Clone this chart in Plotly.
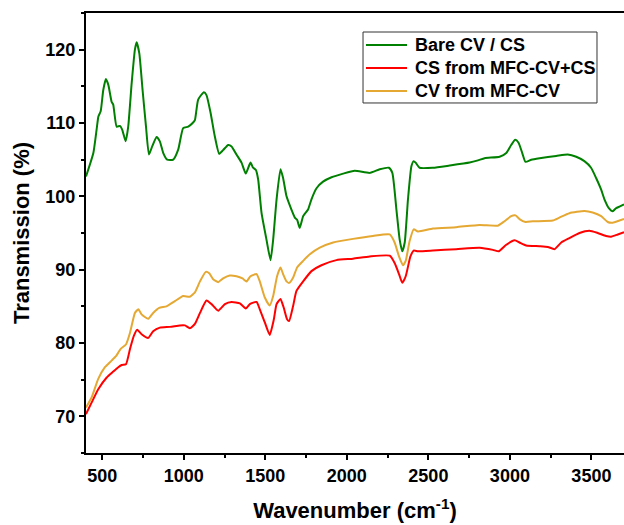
import plotly.graph_objects as go

# ---- data ----
green_x = [400, 445, 465, 476, 490, 506, 522, 537, 557, 567, 588, 608, 622, 643, 659, 680, 700, 711, 727, 747,
           768, 786, 806, 833, 853, 874, 898, 935, 966, 996, 1027, 1054, 1068, 1088, 1123, 1139, 1164, 1190, 1217,
           1241, 1272, 1293, 1323, 1354, 1380, 1409, 1425, 1442, 1456, 1477, 1507, 1532, 1548, 1569, 1593, 1609,
           1630, 1660, 1681, 1695, 1711, 1732, 1762, 1783, 1814, 1854, 1906, 1977, 2048, 2140, 2202, 2258, 2279,
           2304, 2324, 2340, 2355, 2375, 2396, 2410, 2422, 2446, 2528, 2630, 2753, 2804, 2845, 2937, 2978, 3008,
           3033, 3053, 3076, 3096, 3131, 3182, 3284, 3355, 3407, 3457, 3498, 3529, 3560, 3580, 3607, 3631, 3652,
           3672, 3700]
green_y = [102.7, 105.9, 109.1, 110.9, 111.6, 114.5, 116.0, 115.2, 112.9, 112.5, 109.5, 109.6, 109.1, 107.5, 109.5,
           115.4, 120.0, 121.0, 119.5, 114.5, 109.5, 105.7, 106.8, 108.1, 107.5, 105.9, 105.0, 105.0, 106.4, 109.3,
           109.5, 110.0, 110.4, 113.2, 114.2, 113.8, 111.4, 108.2, 105.8, 106.3, 107.0, 106.8, 105.7, 104.6, 103.1,
           104.6, 103.9, 103.6, 102.3, 97.7, 94.1, 91.3, 94.1, 99.6, 103.7, 102.5, 100.0, 98.2, 97.1, 96.8, 95.7,
           97.3, 98.2, 99.6, 101.1, 102.0, 102.6, 103.1, 103.5, 103.2, 103.7, 103.9, 103.2, 98.2, 94.1, 92.5, 93.7,
           99.6, 104.1, 104.8, 104.6, 103.9, 103.9, 104.2, 104.6, 104.9, 105.2, 105.4, 105.9, 107.0, 107.7, 107.3,
           105.9, 104.7, 105.0, 105.2, 105.5, 105.7, 105.4, 104.8, 103.9, 102.5, 100.9, 99.6, 98.4, 97.97, 98.4,
           98.6, 98.9]

red_x = [400, 435, 475, 527, 567, 598, 619, 645, 670, 694, 714, 741, 782, 812, 853, 915, 976, 1007, 1037, 1068,
         1099, 1139, 1170, 1211, 1252, 1293, 1344, 1380, 1405, 1446, 1466, 1497, 1527, 1552, 1569, 1593, 1613, 1634,
         1646, 1670, 1691, 1732, 1783, 1844, 1936, 2038, 2140, 2263, 2293, 2320, 2340, 2361, 2390, 2410, 2436, 2528,
         2671, 2814, 2896, 2932, 2978, 3029, 3059, 3100, 3182, 3233, 3274, 3315, 3365, 3427, 3488, 3539, 3590, 3621,
         3662, 3700]
red_y = [70.3, 71.9, 73.7, 75.3, 76.1, 76.7, 77.0, 77.1, 79.2, 81.0, 81.8, 81.2, 80.7, 81.6, 82.1, 82.2, 82.4, 82.4,
         82.0, 82.6, 84.1, 85.8, 85.3, 84.4, 85.3, 85.6, 85.4, 84.7, 85.3, 85.6, 84.6, 82.8, 81.1, 83.2, 85.3, 86.0,
         84.8, 83.2, 83.0, 85.0, 87.1, 88.4, 89.8, 90.6, 91.3, 91.5, 91.8, 91.9, 90.9, 89.4, 88.2, 89.1, 91.8, 92.6,
         92.5, 92.6, 92.8, 93.0, 92.7, 92.5, 93.4, 94.0, 93.7, 93.3, 93.2, 93.1, 92.8, 93.7, 94.3, 95.0, 95.3, 95.0,
         94.6, 94.5, 94.8, 95.1]

orange_x = [400, 435, 475, 516, 557, 584, 613, 645, 670, 700, 721, 741, 782, 812, 849, 894, 945, 996, 1037, 1068,
            1099, 1135, 1156, 1180, 1211, 1241, 1282, 1323, 1360, 1385, 1409, 1446, 1466, 1497, 1527, 1548, 1572,
            1593, 1609, 1630, 1646, 1670, 1695, 1732, 1773, 1834, 1916, 2038, 2160, 2263, 2293, 2320, 2344, 2361,
            2385, 2410, 2436, 2528, 2671, 2814, 2926, 2967, 3008, 3035, 3059, 3096, 3141, 3263, 3304, 3365, 3457,
            3508, 3560, 3600, 3631, 3672, 3700]
orange_y = [71.2, 72.6, 75.1, 76.7, 77.6, 78.2, 79.2, 79.8, 81.4, 84.1, 84.6, 83.9, 83.3, 84.1, 84.8, 85.0, 85.7,
            86.4, 86.3, 86.9, 88.4, 89.7, 89.5, 88.7, 88.3, 88.8, 89.2, 89.1, 88.8, 88.4, 89.1, 89.4, 88.4, 86.2, 85.1,
            86.4, 89.1, 90.3, 89.4, 88.4, 88.2, 88.9, 90.3, 91.2, 92.1, 93.0, 93.7, 94.2, 94.6, 94.8, 93.7, 91.8, 90.6,
            91.2, 93.9, 95.5, 95.2, 95.6, 95.8, 96.1, 96.0, 96.6, 97.3, 97.4, 96.9, 96.5, 96.6, 96.7, 97.1, 97.7, 98.0,
            97.8, 97.3, 96.5, 96.4, 96.7, 96.9]

series_names = ["Bare CV / CS", "CS from MFC-CV+CS", "CV from MFC-CV"]
series_colors = ["#008000", "#FF0000", "#E5A832"]

x_tickvals = [500, 1000, 1500, 2000, 2500, 3000, 3500]
y_tickvals = [70, 80, 90, 100, 110, 120]

FONT = "Liberation Sans, Arial, sans-serif"

fig = go.Figure()
series = [(green_x, green_y), (red_x, red_y), (orange_x, orange_y)]
for (xs, ys), name, col in zip(series, series_names, series_colors):
    fig.add_trace(go.Scatter(x=xs, y=ys, mode="lines", name=name, showlegend=False,
                             line=dict(color=col, width=2, shape="spline", smoothing=0.5)))

# ---- legend box drawn in paper coordinates (tight row spacing as in the reference) ----
shapes = [dict(type="rect", xref="paper", yref="paper", x0=0.5149, x1=0.9498, y0=0.7955, y1=0.9568,
               line=dict(color="#333333", width=1), fillcolor="white", layer="above")]
annotations = []
row_y = [0.9273, 0.875, 0.8227]
for ry, name, col in zip(row_y, series_names, series_colors):
    shapes.append(dict(type="line", xref="paper", yref="paper", x0=0.5204, x1=0.5967, y0=ry, y1=ry,
                       line=dict(color=col, width=2), layer="above"))
    annotations.append(dict(xref="paper", yref="paper", x=0.6078, y=ry, xanchor="left", yanchor="middle",
                            text=name, showarrow=False,
                            font=dict(family=FONT, size=18, color="black", weight="bold")))

fig.update_layout(
    width=624, height=525,
    margin=dict(l=86, r=0, t=13, b=72),
    plot_bgcolor="white", paper_bgcolor="white",
    font=dict(family=FONT, color="black"),
    showlegend=False,
    shapes=shapes,
    annotations=annotations,
    xaxis=dict(range=[400, 3700], tickmode="array", tickvals=x_tickvals,
               showgrid=False, zeroline=False, showline=True, linecolor="black", linewidth=2,
               mirror=True, ticks="outside", ticklen=5, tickwidth=2, tickcolor="black",
               minor=dict(ticks="outside", ticklen=3, tickwidth=2, tickcolor="black", dtick=250, tick0=250, showgrid=False),
               tickfont=dict(family=FONT, size=18, color="black", weight="bold"),
               title=dict(text="Wavenumber (cm<sup>-1</sup>)", standoff=18,
                          font=dict(family=FONT, size=22, color="black", weight="bold"))),
    yaxis=dict(range=[65, 125], tickmode="array", tickvals=y_tickvals,
               showgrid=False, zeroline=False, showline=True, linecolor="black", linewidth=2,
               mirror=False, ticks="outside", ticklen=5, tickwidth=2, tickcolor="black",
               minor=dict(ticks="outside", ticklen=3, tickwidth=2, tickcolor="black", dtick=5, tick0=65, showgrid=False),
               tickfont=dict(family=FONT, size=18, color="black", weight="bold"),
               title=dict(text="Transmission (%)", standoff=10,
                          font=dict(family=FONT, size=22, color="black", weight="bold"))),
)

fig.write_html("out.html")
